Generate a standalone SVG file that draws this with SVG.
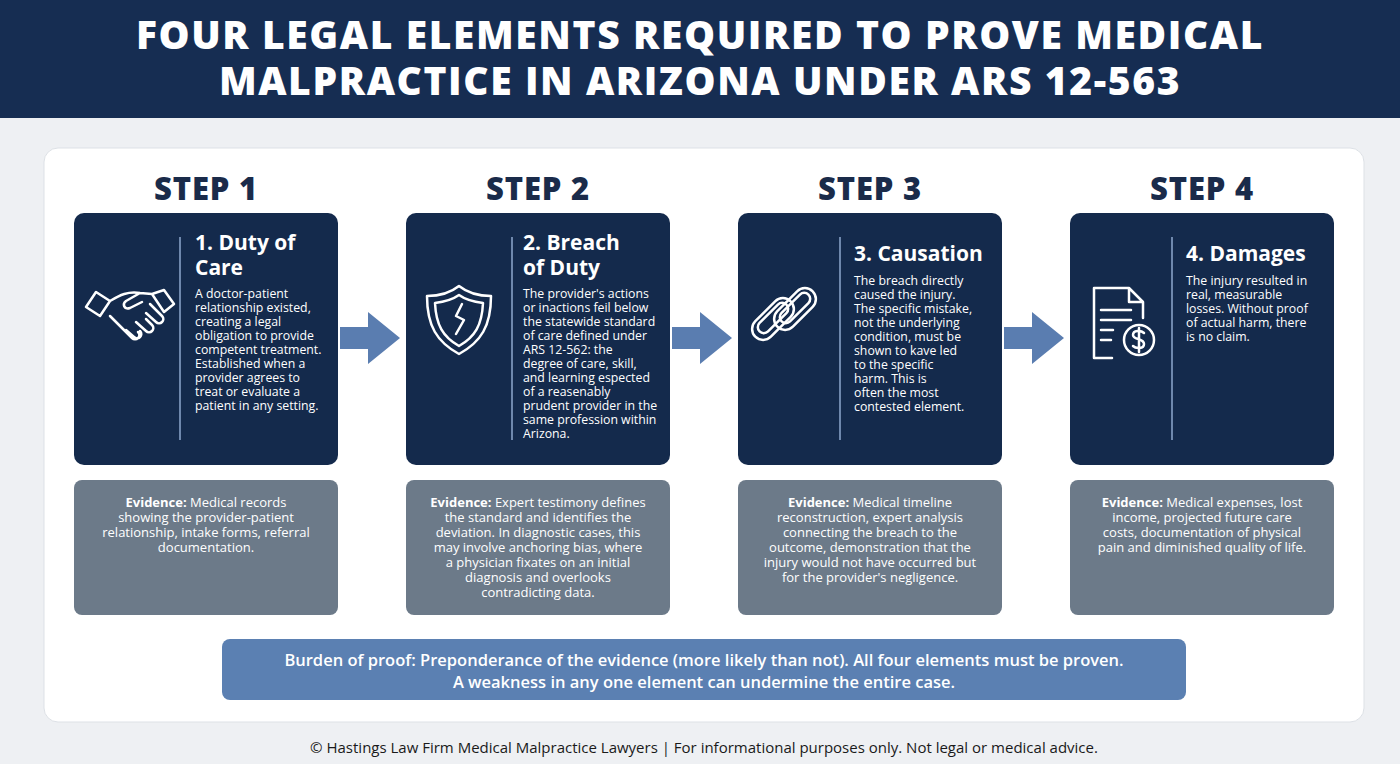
<svg xmlns="http://www.w3.org/2000/svg" width="1400" height="764" viewBox="0 0 1400 764">
<style>
text{font-family:"Open Sans","Liberation Sans",sans-serif}
.title{font-size:39px;font-weight:800;fill:#fff;text-anchor:middle;letter-spacing:1.6px}
.step{font-size:31px;font-weight:800;fill:#1a2b4a;text-anchor:middle;letter-spacing:0.8px}
.card{fill:#142a4c}
.h{font-size:21px;font-weight:700;fill:#fff}
.b{font-size:12.3px;fill:#fff}
.ev{fill:#6c7a89}
.e{font-size:13px;fill:#fff;text-anchor:middle}
.div{stroke:#6f88ad;stroke-width:2}
.ic{fill:none;stroke:#fff;stroke-width:2.5;stroke-linejoin:round;stroke-linecap:round}
.arr{fill:#5a7db0}
</style>
<rect width="1400" height="764" fill="#eef0f3"/>
<rect width="1400" height="118" fill="#162d52"/>
<text class="title" x="700" y="49">FOUR LEGAL ELEMENTS REQUIRED TO PROVE MEDICAL</text>
<text class="title" x="700" y="95">MALPRACTICE IN ARIZONA UNDER ARS 12-563</text>
<rect x="44" y="148" width="1320" height="574" rx="14" fill="#fff" stroke="#dde1e6"/>
<g id="connectors">
<polygon class="arr" points="340,327 368,327 368,312 400,338 368,364 368,349 340,349"/>
<polygon class="arr" points="672,327 700,327 700,312 732,338 700,364 700,349 672,349"/>
<polygon class="arr" points="1004,327 1032,327 1032,312 1064,338 1032,364 1032,349 1004,349"/>
</g>
<g id="step1">
<text class="step" x="206" y="200">STEP 1</text>
<rect class="card" x="74" y="213" width="264" height="252" rx="10"/>
<line class="div" x1="180" y1="237" x2="180" y2="440"/>
<g class="ic"><path d="M86,307 l10,-15 14,9 -10,15z M152,294 l12,-4 10,14 -10,8z M110,301 c10,-6 18,-10 30,-8 l12,1 M140,293 l-14,8 c-4,3 -2,9 4,7 l12,-6 M110,316 l22,22 c4,4 10,-2 6,-6 M126,330 l8,7 c4,4 10,-2 6,-6 M136,322 l10,9 c4,4 10,-2 6,-6 l-6,-6 M146,313 l10,9 c4,4 10,-2 6,-6 l-12,-12"/></g>
<text class="h" x="195" y="250">1. Duty of</text>
<text class="h" x="195" y="275">Care</text>
<text class="b"><tspan x="195" y="298">A doctor-patient</tspan><tspan x="195" y="312">relationship existed,</tspan><tspan x="195" y="326">creating a legal</tspan><tspan x="195" y="340">obligation to provide</tspan><tspan x="195" y="354">competent treatment.</tspan><tspan x="195" y="368">Established when a</tspan><tspan x="195" y="382">provider agrees to</tspan><tspan x="195" y="396">treat or evaluate a</tspan><tspan x="195" y="410">patient in any setting.</tspan></text>
<rect class="ev" x="74" y="480" width="264" height="135" rx="8"/>
<text class="e"><tspan x="206" y="507"><tspan font-weight="700">Evidence:</tspan> Medical records</tspan><tspan x="206" y="522">showing the provider-patient</tspan><tspan x="206" y="537">relationship, intake forms, referral</tspan><tspan x="206" y="552">documentation.</tspan></text>
</g>
<g id="step2">
<text class="step" x="538" y="200">STEP 2</text>
<rect class="card" x="406" y="213" width="264" height="252" rx="10"/>
<line class="div" x1="512" y1="237" x2="512" y2="440"/>
<g class="ic"><path d="M459,286 c-10,8 -22,10 -32,10 c0,30 10,46 32,58 c22,-12 32,-28 32,-58 c-10,0 -22,-2 -32,-10z"/><path d="M459,295 c-7,5 -16,7 -24,8 c1,22 8,34 24,43 c16,-9 23,-21 24,-43 c-8,-1 -17,-3 -24,-8z"/><path d="M462,304 l-6,12 8,4 -8,14"/></g>
<text class="h" x="523" y="250">2. Breach</text>
<text class="h" x="523" y="275">of Duty</text>
<text class="b"><tspan x="523" y="298">The provider's actions</tspan><tspan x="523" y="312">or inactions feil below</tspan><tspan x="523" y="326">the statewide standard</tspan><tspan x="523" y="340">of care defined under</tspan><tspan x="523" y="354">ARS 12-562: the</tspan><tspan x="523" y="368">degree of care, skill,</tspan><tspan x="523" y="382">and learning espected</tspan><tspan x="523" y="396">of a reasenably</tspan><tspan x="523" y="410">prudent provider in the</tspan><tspan x="523" y="424">same profession within</tspan><tspan x="523" y="438">Arizona.</tspan></text>
<rect class="ev" x="406" y="480" width="264" height="135" rx="8"/>
<text class="e"><tspan x="538" y="507"><tspan font-weight="700">Evidence:</tspan> Expert testimony defines</tspan><tspan x="538" y="522">the standard and identifies the</tspan><tspan x="538" y="537">deviation. In diagnostic cases, this</tspan><tspan x="538" y="552">may involve anchoring bias, where</tspan><tspan x="538" y="567">a physician fixates on an initial</tspan><tspan x="538" y="582">diagnosis and overlooks</tspan><tspan x="538" y="597">contradicting data.</tspan></text>
</g>
<g id="step3">
<text class="step" x="870" y="200">STEP 3</text>
<rect class="card" x="738" y="213" width="264" height="252" rx="10"/>
<line class="div" x1="840" y1="237" x2="840" y2="440"/>
<g class="ic"><rect x="748" y="308" width="50" height="22" rx="11" transform="rotate(-45 773 319)"/><rect x="770" y="298" width="50" height="22" rx="11" transform="rotate(-45 795 309)"/><rect x="754" y="312" width="38" height="12" rx="6" transform="rotate(-45 773 318)"/><rect x="776" y="302" width="38" height="12" rx="6" transform="rotate(-45 795 308)"/></g>
<text class="h" x="854" y="261">3. Causation</text>
<text class="b"><tspan x="854" y="285">The breach directly</tspan><tspan x="854" y="299">caused the injury.</tspan><tspan x="854" y="313">The specific mistake,</tspan><tspan x="854" y="327">not the underlying</tspan><tspan x="854" y="341">condition, must be</tspan><tspan x="854" y="355">shown to kave led</tspan><tspan x="854" y="369">to the specific</tspan><tspan x="854" y="383">harm. This is</tspan><tspan x="854" y="397">often the most</tspan><tspan x="854" y="411">contested element.</tspan></text>
<rect class="ev" x="738" y="480" width="264" height="135" rx="8"/>
<text class="e"><tspan x="870" y="507"><tspan font-weight="700">Evidence:</tspan> Medical timeline</tspan><tspan x="870" y="522">reconstruction, expert analysis</tspan><tspan x="870" y="537">connecting the breach to the</tspan><tspan x="870" y="552">outcome, demonstration that the</tspan><tspan x="870" y="567">injury would not have occurred but</tspan><tspan x="870" y="582">for the provider's negligence.</tspan></text>
</g>
<g id="step4">
<text class="step" x="1202" y="200">STEP 4</text>
<rect class="card" x="1070" y="213" width="264" height="252" rx="10"/>
<line class="div" x1="1172" y1="237" x2="1172" y2="440"/>
<g class="ic"><path d="M1112,358 h-18 v-70 h35 l14,14 v16 M1129,288 v14 h14"/><path d="M1101,310 h30 M1101,320 h30 M1101,330 h12 M1101,340 h10"/><circle cx="1139" cy="340" r="15"/><path d="M1144,333 c-3,-3 -11,-3 -11,2 c0,5 11,3 11,9 c0,5 -8,5 -11,2 M1139,328 v24"/></g>
<text class="h" x="1186" y="261">4. Damages</text>
<text class="b"><tspan x="1186" y="285">The injury resulted in</tspan><tspan x="1186" y="299">real, measurable</tspan><tspan x="1186" y="313">losses. Without proof</tspan><tspan x="1186" y="327">of actual harm, there</tspan><tspan x="1186" y="341">is no claim.</tspan></text>
<rect class="ev" x="1070" y="480" width="264" height="135" rx="8"/>
<text class="e"><tspan x="1202" y="507"><tspan font-weight="700">Evidence:</tspan> Medical expenses, lost</tspan><tspan x="1202" y="522">income, projected future care</tspan><tspan x="1202" y="537">costs, documentation of physical</tspan><tspan x="1202" y="552">pain and diminished quality of life.</tspan></text>
</g>
<g id="burden">
<rect x="222" y="639" width="964" height="61" rx="8" fill="#5b80b2"/>
<text x="704" y="666" font-size="16.5" font-weight="600" fill="#fff" text-anchor="middle">Burden of proof: Preponderance of the evidence (more likely than not). All four elements must be proven.</text>
<text x="704" y="688" font-size="16.5" font-weight="600" fill="#fff" text-anchor="middle">A weakness in any one element can undermine the entire case.</text>
</g>
<text x="704" y="753" font-size="15" fill="#1a1a1a" text-anchor="middle">© Hastings Law Firm Medical Malpractice Lawyers | For informational purposes only. Not legal or medical advice.</text>
</svg>
